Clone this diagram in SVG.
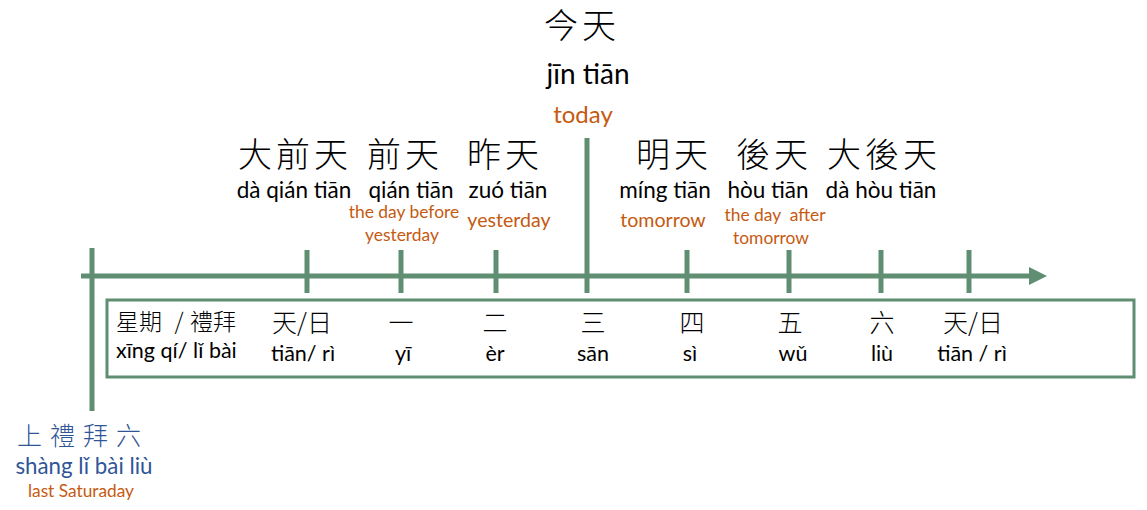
<svg xmlns="http://www.w3.org/2000/svg" width="1147" height="510" viewBox="0 0 1147 510">
<style>
.cjk{font-family:"Noto Sans CJK TC","Noto Sans CJK SC",sans-serif;font-weight:300;fill:#000;text-anchor:middle}
.big{font-size:34px;letter-spacing:4px}
.py{font-family:Lato,"Noto Sans",sans-serif;fill:#000;text-anchor:middle}
.en{font-family:Lato,"Noto Sans",sans-serif;fill:#C55A11;text-anchor:middle}
.blue{fill:#2F5597}
.ln{stroke:#5F8E72;stroke-width:5;fill:none}
</style>
<defs>
<marker id="ah" markerUnits="userSpaceOnUse" markerWidth="20" markerHeight="20" viewBox="0 0 20 20" refX="0" refY="10" orient="auto">
<path d="M0,1 L18,10 L0,19 Z" fill="#5F8E72"/>
</marker>
</defs>
<g id="connectors">
<line class="ln" x1="81" y1="276" x2="1029" y2="276" marker-end="url(#ah)"/>
<line class="ln" x1="92" y1="248" x2="92" y2="411"/>
<line class="ln" x1="307" y1="250" x2="307" y2="293"/>
<line class="ln" x1="401" y1="250" x2="401" y2="293"/>
<line class="ln" x1="496" y1="250" x2="496" y2="293"/>
<line class="ln" x1="587" y1="138" x2="587" y2="293"/>
<line class="ln" x1="687" y1="250" x2="687" y2="293"/>
<line class="ln" x1="789" y1="250" x2="789" y2="293"/>
<line class="ln" x1="881" y1="250" x2="881" y2="293"/>
<line class="ln" x1="969" y1="250" x2="969" y2="293"/>
</g>
<g id="today">
<text class="cjk big" x="582" y="38">今天</text>
<text class="py" x="588" y="84" font-size="28">jīn tiān</text>
<text class="en" x="583" y="123" font-size="24">today</text>
</g>
<g id="daqiantian">
<text class="cjk big" x="295" y="167">大前天</text>
<text class="py" x="294" y="198" font-size="22.5">dà qián tiān</text>
</g>
<g id="qiantian">
<text class="cjk big" x="405" y="167">前天</text>
<text class="py" x="411" y="198" font-size="22.5">qián tiān</text>
<text class="en" x="404" y="218" font-size="17.4">the day before</text>
<text class="en" x="402" y="241" font-size="17.4">yesterday</text>
</g>
<g id="zuotian">
<text class="cjk big" x="505" y="167">昨天</text>
<text class="py" x="508" y="198" font-size="22.5">zuó tiān</text>
<text class="en" x="509" y="227" font-size="19.6">yesterday</text>
</g>
<g id="mingtian">
<text class="cjk big" x="674" y="167">明天</text>
<text class="py" x="665" y="198" font-size="22.5">míng tiān</text>
<text class="en" x="663" y="227" font-size="19.6">tomorrow</text>
</g>
<g id="houtian">
<text class="cjk big" x="774" y="167">後天</text>
<text class="py" x="768" y="198" font-size="22.5">hòu tiān</text>
<text class="en" x="775" y="221" font-size="17.4" xml:space="preserve">the day  after</text>
<text class="en" x="771" y="244" font-size="17.4">tomorrow</text>
</g>
<g id="dahoutian">
<text class="cjk big" x="884" y="167">大後天</text>
<text class="py" x="881" y="198" font-size="22.5">dà hòu tiān</text>
</g>
<g id="weekbox">
<rect x="107" y="300" width="1027" height="77" fill="none" stroke="#5F8E72" stroke-width="3"/>
<text class="cjk" x="116" y="330" font-size="23" style="text-anchor:start">星期</text>
<text class="cjk" x="179" y="330" font-size="23">/</text>
<text class="cjk" x="190" y="330" font-size="23" style="text-anchor:start">禮拜</text>
<text class="py" x="116" y="358" font-size="21.5" style="text-anchor:start">xīng qí/ lǐ bài</text>
<text class="cjk" x="302" y="332" font-size="25">天/日</text>
<text class="py" x="303" y="361" font-size="21.5">tiān/ rì</text>
<text class="cjk" x="401" y="332" font-size="25">一</text>
<text class="py" x="403" y="361" font-size="21.5">yī</text>
<text class="cjk" x="495" y="332" font-size="25">二</text>
<text class="py" x="495" y="361" font-size="21.5">èr</text>
<text class="cjk" x="593" y="332" font-size="25">三</text>
<text class="py" x="593" y="361" font-size="21.5">sān</text>
<text class="cjk" x="692" y="332" font-size="25">四</text>
<text class="py" x="690" y="361" font-size="21.5">sì</text>
<text class="cjk" x="790" y="332" font-size="25">五</text>
<text class="py" x="793" y="361" font-size="21.5">wǔ</text>
<text class="cjk" x="882" y="332" font-size="25">六</text>
<text class="py" x="882" y="361" font-size="21.5">liù</text>
<text class="cjk" x="973" y="332" font-size="25">天/日</text>
<text class="py" x="972" y="361" font-size="21.5">tiān / rì</text>
</g>
<g id="lastsat">
<text class="cjk blue" x="17" y="445" font-size="25" letter-spacing="8" style="text-anchor:start">上禮拜六</text>
<text class="py blue" x="84" y="474" font-size="22.3">shàng lǐ bài liù</text>
<text class="en" x="81" y="497" font-size="17.3">last Saturaday</text>
</g>
</svg>
